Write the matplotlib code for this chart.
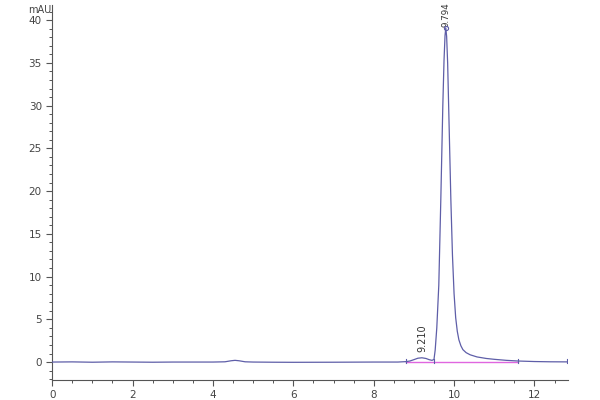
import matplotlib
matplotlib.use("Agg")
import matplotlib.pyplot as plt
from matplotlib.ticker import MultipleLocator

# chromatogram (time in min, signal in mAU)
time = [0.0, 0.5, 1.0, 1.5, 2.0, 2.5, 3.0, 3.5, 4.0, 4.3, 4.45, 4.55, 4.65, 4.8,
        5.0, 5.5, 6.0, 7.0, 8.0, 8.6, 8.8, 8.9, 9.0, 9.1, 9.2, 9.3, 9.38, 9.45,
        9.5, 9.53, 9.57, 9.62, 9.67, 9.72, 9.75, 9.775, 9.794, 9.815, 9.84,
        9.87, 9.92, 9.96, 10.0, 10.04, 10.08, 10.12, 10.17, 10.22, 10.3, 10.4,
        10.57, 10.8, 11.0, 11.3, 11.6, 12.0, 12.4, 12.8]
signal = [0.0, 0.02, -0.02, 0.02, 0.0, -0.02, 0.0, 0.0, 0.0, 0.03, 0.15, 0.2,
          0.15, 0.03, 0.0, -0.02, -0.03, -0.02, 0.0, 0.0, 0.05, 0.12, 0.28, 0.45,
          0.5, 0.42, 0.28, 0.2, 0.3, 1.4, 4.0, 9.0, 19.0, 30.0, 35.3, 38.2, 39.1,
          38.1, 35.0, 29.0, 19.0, 12.5, 8.0, 5.2, 3.6, 2.6, 1.9, 1.45, 1.1, 0.85,
          0.6, 0.42, 0.32, 0.2, 0.12, 0.06, 0.03, 0.02]

peak_times = [9.210, 9.794]
peak_heights = [0.5, 39.1]
peak_labels = ["9.210", "9.794"]

baseline_x = [8.8, 11.6]
baseline_y = [0.0, 0.0]
event_marks = [8.8, 9.5, 11.6, 12.8]

fig = plt.figure(figsize=(6, 4), dpi=100)
ax = fig.add_axes([0.087, 0.05, 0.86, 0.938])

line_col = "#5e5ea8"
ax.plot(baseline_x, baseline_y, color="#e066e0", lw=1.0, zorder=2)
ax.plot(time, signal, color=line_col, lw=0.9, zorder=3)
for t in event_marks:
    ax.plot([t, t], [-0.15, 0.3], color=line_col, lw=0.8, zorder=3)
ax.plot([peak_times[1]], [peak_heights[1]], marker="o", ms=3, mfc="none",
        mec=line_col, mew=0.8, zorder=4)

ax.text(peak_times[0], peak_heights[0] + 0.7, peak_labels[0], rotation=90,
        ha="center", va="bottom", fontsize=7, color="#333333")
ax.text(peak_times[1], peak_heights[1] + 0.05, peak_labels[1], rotation=90,
        ha="center", va="bottom", fontsize=6.3, color="#333333", clip_on=False)

ax.set_xlim(0, 12.84)
ax.set_ylim(-2.1, 41.8)
ax.xaxis.set_major_locator(MultipleLocator(2))
ax.xaxis.set_minor_locator(MultipleLocator(0.5))
ax.yaxis.set_major_locator(MultipleLocator(5))
ax.yaxis.set_minor_locator(MultipleLocator(1))
ax.set_yticks(range(0, 41, 5))

for s in ["top", "right"]:
    ax.spines[s].set_visible(False)
for s in ["left", "bottom"]:
    ax.spines[s].set_color("#555555")
    ax.spines[s].set_linewidth(0.8)

ax.tick_params(which="major", direction="out", length=4, width=0.8,
               colors="#555555", labelsize=7.5, labelcolor="#444444")
ax.tick_params(which="minor", direction="out", length=2.5, width=0.7,
               colors="#555555")

fig.text(0.047, 0.975, "mAU", fontsize=7, color="#444444", ha="left", va="center")

fig.savefig("out.png", dpi=100)
